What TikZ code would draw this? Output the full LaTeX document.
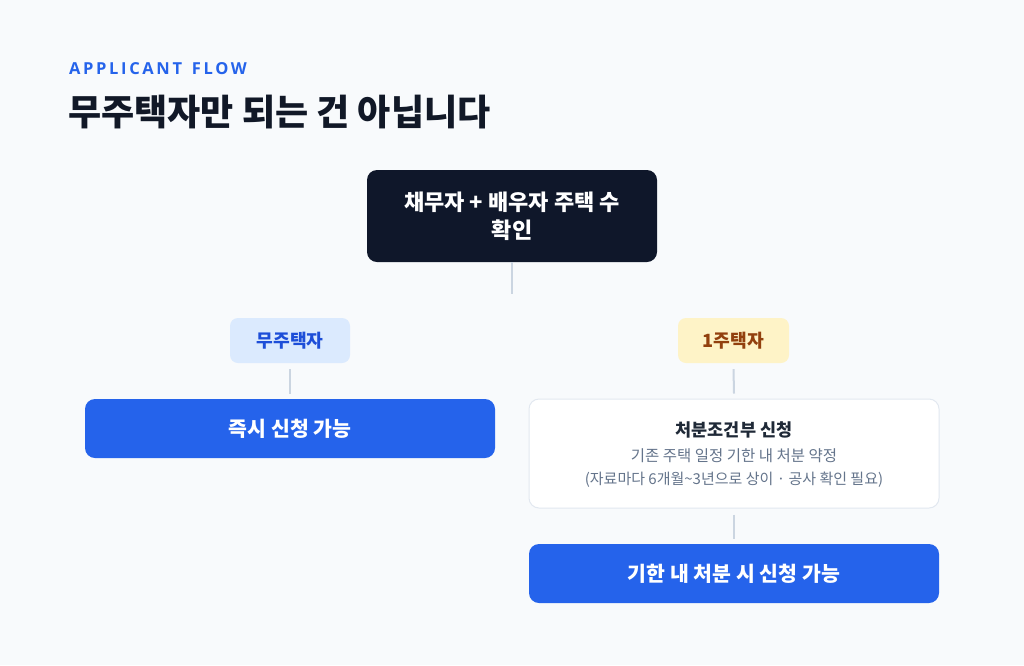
\documentclass[tikz,border=0pt]{standalone}
\usepackage{fontspec}
\setmainfont{Noto Sans CJK KR}
\newfontfamily\eyebrowfont[LetterSpace=16]{Open Sans}
\definecolor{bg}{HTML}{F8FAFC}
\definecolor{ink}{HTML}{111827}
\definecolor{navy}{HTML}{0F172A}
\definecolor{brand}{HTML}{2563EB}
\definecolor{pillblue}{HTML}{DBEAFE}
\definecolor{pillbluetext}{HTML}{1D4ED8}
\definecolor{pillamber}{HTML}{FEF3C7}
\definecolor{pillambertext}{HTML}{92400E}
\definecolor{connector}{HTML}{CBD5E1}
\definecolor{cardborder}{HTML}{E2E8F0}
\definecolor{cardtitle}{HTML}{1F2937}
\definecolor{cardtext}{HTML}{64748B}
\tikzset{
  box/.style={rectangle, rounded corners=10pt, inner sep=0pt, align=center},
  darkbox/.style={box, fill=navy, text=white, minimum width=290pt, minimum height=92pt,
    font=\bfseries\fontsize{22}{28}\selectfont},
  bluebox/.style={box, fill=brand, text=white, minimum width=410pt, minimum height=59pt,
    font=\bfseries\fontsize{20.5}{24}\selectfont},
  pill/.style={box, rounded corners=8pt, minimum height=45pt, font=\bfseries\fontsize{18.2}{21}\selectfont},
  card/.style={box, fill=white, draw=cardborder, line width=1pt, minimum width=410pt, minimum height=109pt},
  link/.style={draw=connector, line width=2pt},
}
\begin{document}
\begin{tikzpicture}[x=1pt,y=-1pt]
\path[use as bounding box, fill=bg] (0,0) rectangle (1024,665);

\node[anchor=base west, text=brand, inner sep=0pt, font=\eyebrowfont\bfseries\fontsize{16.5}{18}\selectfont] (eyebrow) at (69,74) {APPLICANT\hspace{3pt} FLOW};
\node[anchor=base west, text=ink, inner sep=0pt, font=\bfseries\fontsize{36}{40}\selectfont] (title) at (68,125) {무주택자만 되는 건 아닙니다};

\node[darkbox] (top) at (512,216) {채무자 + 배우자 주택 수\\확인};
\coordinate (stub) at (512,294);
\draw[link] (top.south) -- (stub);

\node[pill, fill=pillblue, text=pillbluetext, minimum width=120pt] (none) at (290,340.5) {무주택자};
\node[pill, fill=pillamber, text=pillambertext, minimum width=111pt] (one) at (733.5,340.5) {1주택자};

\node[bluebox] (now) at (290,428.5) {즉시 신청 가능};

\node[card] (cond) at (734,453.5) {};
\node[anchor=base, inner sep=0pt, text=cardtitle, font=\bfseries\fontsize{17.5}{20}\selectfont] (condtitle) at (734,436.5) {처분조건부 신청};
\node[anchor=base, inner sep=0pt, text=cardtext, font=\fontsize{15.5}{18}\selectfont] (condline1) at (734,461.5) {기존 주택 일정 기한 내 처분 약정};
\node[anchor=base, inner sep=0pt, text=cardtext, font=\fontsize{15}{18}\selectfont] (condline2) at (734,484.5) {(자료마다 6개월\textasciitilde3년으로 상이 · 공사 확인 필요)};

\node[bluebox] (later) at (734,573.5) {기한 내 처분 시 신청 가능};

\draw[link] ([yshift=-6pt]none.south) -- ([yshift=5pt]now.north);
\draw[link] ([yshift=-6pt]one.south) -- ([yshift=5pt]cond.north);
\draw[link] ([yshift=-6pt]cond.south) -- ([yshift=5pt]later.north);
\end{tikzpicture}
\end{document}
